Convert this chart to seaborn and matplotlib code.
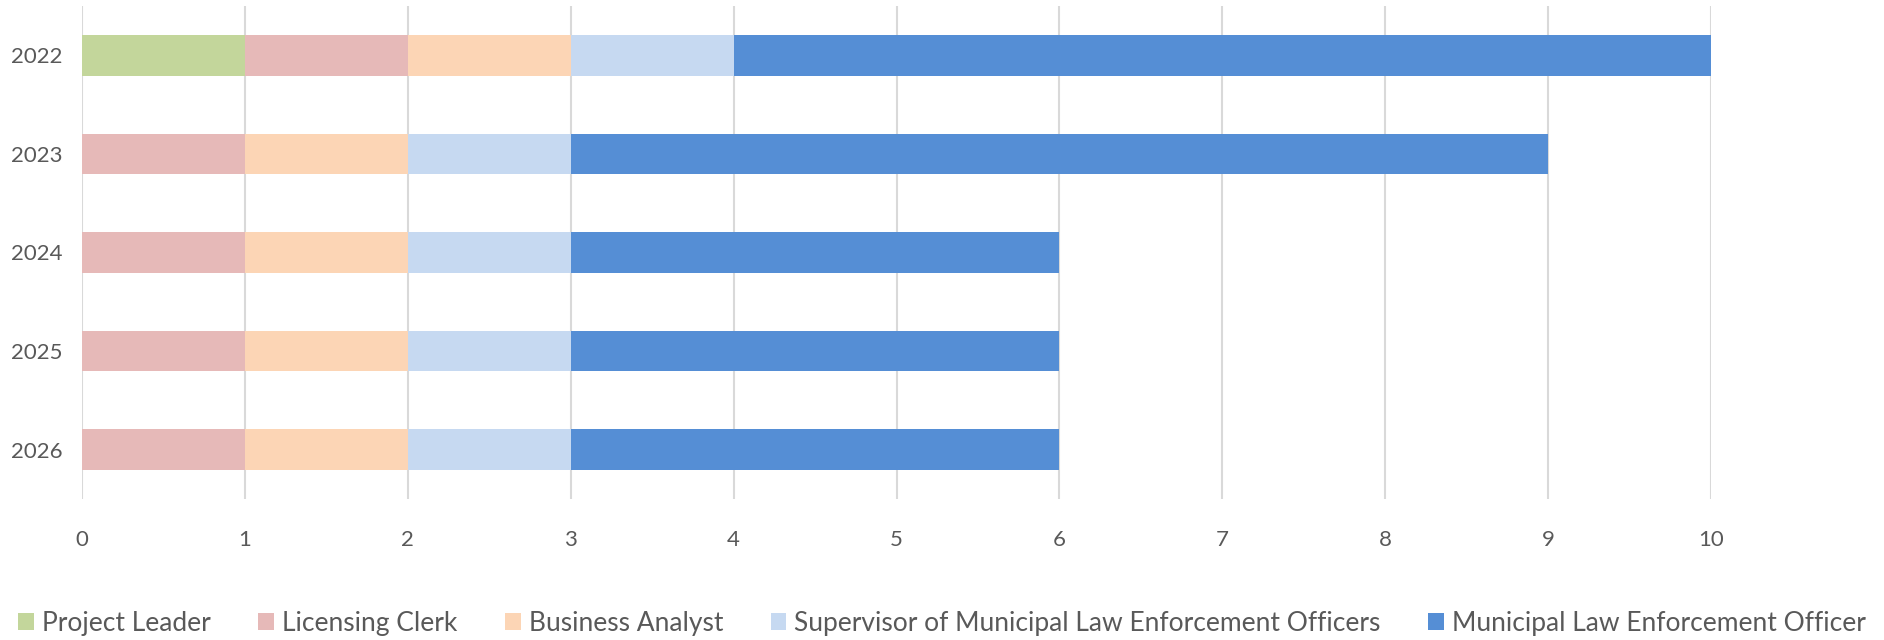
import matplotlib
matplotlib.use("Agg")
import matplotlib.pyplot as plt
import seaborn as sns
import numpy as np
import pandas as pd
from matplotlib.patches import Patch

years = ["2022", "2023", "2024", "2025", "2026"]
series_names = ["Project Leader", "Licensing Clerk", "Business Analyst",
                "Supervisor of Municipal Law Enforcement Officers",
                "Municipal Law Enforcement Officer"]
project_leader = [1, 0, 0, 0, 0]
licensing_clerk = [1, 1, 1, 1, 1]
business_analyst = [1, 1, 1, 1, 1]
supervisor = [1, 1, 1, 1, 1]
mleo = [6, 6, 3, 3, 3]
colors = ["#C3D69B", "#E6B9B8", "#FCD5B5", "#C6D9F1", "#558ED5"]

sns.set_style("white")
plt.rcParams["font.family"] = ["Lato", "DejaVu Sans"]

fig = plt.figure(figsize=(18.84, 6.4), dpi=100)
ax = fig.add_axes([82 / 1884, 1 - 499 / 640, (1711 - 82) / 1884, (499 - 6) / 640])

vals = [project_leader, licensing_clerk, business_analyst, supervisor, mleo]
cum = np.cumsum(np.array(vals), axis=0)
for i in range(len(series_names) - 1, -1, -1):
    df = pd.DataFrame({"year": years, "value": cum[i]})
    sns.barplot(data=df, x="value", y="year", orient="h", color=colors[i],
                width=0.41, ax=ax, saturation=1, linewidth=0, zorder=3)

ax.set_xlim(0, 10)
ax.set_ylim(4.5, -0.5)
ax.set_xticks(range(0, 11))
ax.grid(axis="x", color="#D9D9D9", linewidth=1.5, zorder=0)
ax.set_axisbelow(True)
for s in ax.spines.values():
    s.set_visible(False)
ax.set_xlabel("")
ax.set_ylabel("")
ax.tick_params(axis="both", length=0, labelcolor="#595959", labelsize=16)
ax.tick_params(axis="x", pad=22)
ax.tick_params(axis="y", pad=14)

handles = [Patch(facecolor=c, edgecolor="none") for c in colors]
fig.legend(handles, series_names, loc="center", bbox_to_anchor=(0.5, 1 - 623 / 640),
           ncol=5, frameon=False, fontsize=19, labelcolor="#595959",
           handlelength=0.6, handleheight=0.6, handletextpad=0.3, columnspacing=1.8)

fig.savefig("out.png", dpi=100, facecolor="white")
